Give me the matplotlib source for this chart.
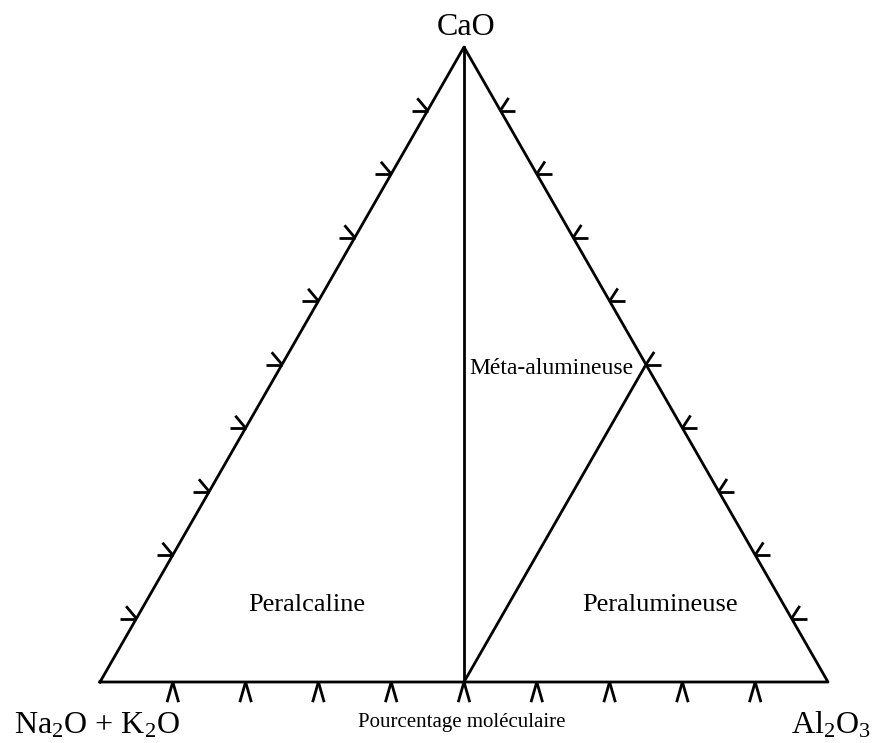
import numpy as np
import matplotlib
matplotlib.use("Agg")
import matplotlib.pyplot as plt

plt.rcParams['font.family'] = ['Liberation Serif', 'DejaVu Serif']
plt.rcParams['mathtext.fontset'] = 'custom'
plt.rcParams['mathtext.rm'] = 'Liberation Serif'
plt.rcParams['mathtext.it'] = 'Liberation Serif:italic'

# compositions as (Na2O+K2O, CaO, Al2O3) fractions
triangle = [(1, 0, 0), (0, 0, 1), (0, 1, 0), (1, 0, 0)]
meta_line = [(0.5, 0, 0.5), (0, 1, 0)]            # Al2O3 = Na2O + K2O
peralu_line = [(0.5, 0, 0.5), (0, 0.5, 0.5)]      # Al2O3 = Na2O + K2O + CaO
tick_fracs = [0.1, 0.2, 0.3, 0.4, 0.5, 0.6, 0.7, 0.8, 0.9]

vertex_labels = ["Na$_2$O + K$_2$O", "CaO", "Al$_2$O$_3$"]
field_labels = ["Peralcaline", "Méta-alumineuse", "Peralumineuse"]
axis_title = "Pourcentage moléculaire"


def to_xy(comp):
    na, ca, al = comp
    s = na + ca + al
    return (al + ca / 2) / s, ca * np.sqrt(3) / 2 / s


fig = plt.figure(figsize=(8.74, 7.43), dpi=100)
ax = fig.add_axes([0, 0, 1, 1])
# 1 data unit = 728 px horizontally, ~733 px vertically
ax.set_xlim(-100 / 728, 774 / 728)
ax.set_ylim(-61 / 733.2, 682 / 733.2)
ax.axis("off")

for pts in (triangle, meta_line, peralu_line):
    xy = np.array([to_xy(p) for p in pts])
    ax.plot(xy[:, 0], xy[:, 1], color="black", lw=2, solid_capstyle="projecting")

# chevron ticks: (start vertex, end vertex, leg angles in degrees, leg length px)
edges = [
    ((1, 0, 0), (0, 0, 1), (254, 286), 21),   # bottom
    ((1, 0, 0), (0, 1, 0), (180, 130), 16),   # left
    ((0, 0, 1), (0, 1, 0), (0, 57), 15),      # right
]
for a, b, angles, length in edges:
    xa, ya = to_xy(a)
    xb, yb = to_xy(b)
    for f in tick_fracs:
        x0 = xa + (xb - xa) * f
        y0 = ya + (yb - ya) * f
        for ang in angles:
            t = np.radians(ang)
            ax.plot([x0, x0 + length / 728 * np.cos(t)],
                    [y0, y0 + length / 733.2 * np.sin(t)],
                    color="black", lw=2, solid_capstyle="butt")

ax.text(-3 / 728, -51 / 733.2, vertex_labels[0], fontsize=23,
        ha="center", va="baseline")
ax.text(366 / 728, 647 / 733.2, vertex_labels[1], fontsize=23,
        ha="center", va="baseline")
ax.text(731 / 728, -51 / 733.2, vertex_labels[2], fontsize=23,
        ha="center", va="baseline")

ax.text(207 / 728, 71 / 733.2, field_labels[0], fontsize=19,
        ha="center", va="baseline")
ax.text(369 / 728, 308 / 733.2, field_labels[1], fontsize=17,
        ha="left", va="baseline")
ax.text(560 / 728, 71 / 733.2, field_labels[2], fontsize=19,
        ha="center", va="baseline")
ax.text(362 / 728, -45 / 733.2, axis_title, fontsize=15,
        ha="center", va="baseline")

fig.savefig("out.png", dpi=100)
